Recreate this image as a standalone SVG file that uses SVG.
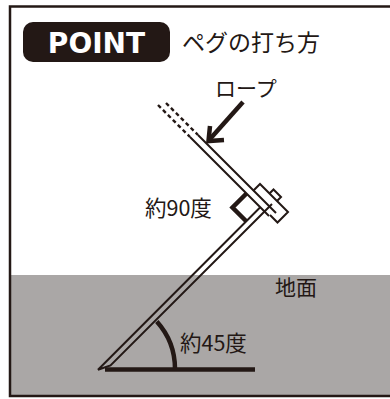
<svg xmlns="http://www.w3.org/2000/svg" width="390" height="399" viewBox="0 0 390 399">
  <style>
    .ink { fill: none; stroke: #231815; stroke-linecap: butt; stroke-linejoin: miter; }
    .thin { stroke-width: 2; }
    .thick { stroke-width: 4.5; }
    .dash { stroke-width: 2.4; stroke-dasharray: 4 3; }
    .jp { font-family: "Noto Sans CJK JP", "Noto Sans", sans-serif; fill: #231815; }
  </style>

  <!-- background, ground and frame -->
  <rect x="0" y="0" width="390" height="399" fill="#ffffff"/>
  <rect id="ground" x="10" y="275" width="385" height="121" fill="#aaa7a6"/>
  <rect id="frame" x="10" y="6.5" width="385" height="389.5" fill="none" stroke="#231815" stroke-width="2.5"/>

  <!-- title badge -->
  <g id="badge">
    <rect x="23" y="22" width="147" height="40" rx="10" fill="#231815"/>
    <text x="96.5" y="53" text-anchor="middle" font-family="DejaVu Sans, sans-serif" font-weight="bold" font-size="28" fill="#ffffff">POINT</text>
  </g>
  <g id="title">
    <text class="jp" x="182" y="51" font-size="23">ペグの打ち方</text>
  </g>

  <!-- rope label with arrow -->
  <g id="rope-label">
    <text class="jp" x="215" y="96" font-size="21">ロープ</text>
    <path class="ink thick" d="M243,102 L210,139"/>
    <path class="ink thick" d="M210,126 L208.5,141 L224,140"/>
  </g>

  <!-- rope: two parallel lines, dashed at the free end -->
  <g id="rope">
    <path class="ink dash" d="M158,105 L190,137 M166,103 L198,135"/>
    <path class="ink thin" d="M190,137 L269,216 M198,135 L276,213"/>
  </g>

  <!-- peg: shaft with pointed tip and head -->
  <g id="peg">
    <path class="ink thin" d="M260.25,207.25 L98,369.75 L110.5,365.5 L272,204"/>
    <path class="ink thin" d="M253.25,190.75 L260,184 L288,212 L277.5,222.5 L270,215"/>
    <path class="ink thin" d="M269.5,193.5 L273.5,189.5 L281,197 L277,201"/>
  </g>

  <!-- right-angle mark -->
  <g id="right-angle">
    <path class="ink thick" d="M246.25,221.25 L232.5,207.5 L246.5,193.5"/>
    <text class="jp" x="145" y="216" font-size="21.5">約90度</text>
  </g>

  <!-- 45 degree angle to ground -->
  <g id="ground-angle">
    <path class="ink thick" d="M105,369.5 H255"/>
    <path class="ink thick" d="M175,369 A71,71 0 0 0 156.8,321.5"/>
    <text class="jp" x="180" y="351" font-size="21.5">約45度</text>
  </g>

  <g id="ground-label">
    <text class="jp" x="275" y="295" font-size="21">地面</text>
  </g>
</svg>
